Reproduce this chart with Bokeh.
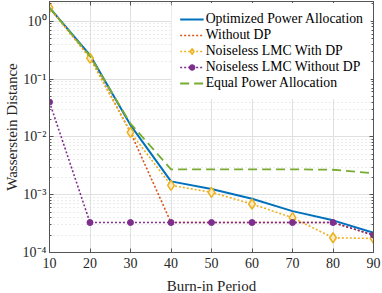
from bokeh.plotting import figure
from bokeh.models import FixedTicker, LogAxis, LinearAxis, CustomJSTickFormatter, Range1d, Legend, LegendItem
from bokeh.embed import file_html
from bokeh.resources import INLINE

burn_in = [10, 20, 30, 40, 50, 60, 70, 80, 90]
optimized = [1.72, 0.26, 0.016, 1.7e-3, 1.25e-3, 8.5e-4, 5.2e-4, 3.6e-4, 2.2e-4]
without_dp = [1.72, 0.24, 0.012, 3.3e-4, 3.3e-4, 3.3e-4, 3.3e-4, 3.3e-4, 2.0e-4]
lmc_with_dp = [1.72, 0.23, 0.012, 1.45e-3, 1.1e-3, 6.9e-4, 4.0e-4, 1.8e-4, 1.75e-4]
lmc_without_dp = [0.04, 3.3e-4, 3.3e-4, 3.3e-4, 3.3e-4, 3.3e-4, 3.3e-4, 3.3e-4, 2.0e-4]
equal_power = [1.72, 0.25, 0.017, 2.75e-3, 2.75e-3, 2.75e-3, 2.75e-3, 2.7e-3, 2.35e-3]

x_ticks = [10, 20, 30, 40, 50, 60, 70, 80, 90]
y_major = [1e-4, 1e-3, 1e-2, 1e-1, 1.0]
y_minor = [k * 10.0 ** e for e in range(-4, 1) for k in range(2, 10)]

FONT = "'Liberation Serif', serif"
BLUE = "#0072BD"
RED = "#D95319"
YELLOW = "#EDB120"
PURPLE = "#7E2F8E"
GREEN = "#77AC30"

p = figure(frame_width=324, frame_height=251, y_axis_type="log", output_backend="svg",
           toolbar_location=None, x_range=Range1d(10, 90), y_range=Range1d(1e-4, 2.2),
           min_border_left=49, min_border_right=9, min_border_top=1, min_border_bottom=41)
p.background_fill_color = "white"
p.outline_line_color = "#555555"

sup = CustomJSTickFormatter(code="""
const m = {'-':'\u207b','0':'\u2070','1':'\u00b9','2':'\u00b2','3':'\u00b3','4':'\u2074'};
const e = Math.round(Math.log10(tick));
return '10' + String(e).split('').map(c => m[c]).join('');
""")

yt = FixedTicker(ticks=y_major, minor_ticks=y_minor)
xt = FixedTicker(ticks=x_ticks, minor_ticks=[])

for ax in p.yaxis:
    ax.ticker = yt
    ax.formatter = sup
for ax in p.xaxis:
    ax.ticker = xt

def style_axis(ax):
    ax.axis_line_color = "#555555"
    ax.major_tick_line_color = "#555555"
    ax.minor_tick_line_color = "#555555"
    ax.major_tick_in = 4
    ax.major_tick_out = 0
    ax.minor_tick_in = 2
    ax.minor_tick_out = 0
    ax.major_label_text_font = FONT
    ax.major_label_text_font_size = "14px"
    ax.major_label_text_color = "#262626"
    ax.axis_label_text_font = FONT
    ax.axis_label_text_font_size = "15px"
    ax.axis_label_text_font_style = "normal"
    ax.axis_label_text_color = "#262626"

style_axis(p.xaxis[0])
style_axis(p.yaxis[0])
p.xaxis[0].axis_label = "Burn-in Period"
p.yaxis[0].axis_label = "Wasserstein Distance"
p.xaxis[0].major_label_standoff = 5
p.yaxis[0].major_label_standoff = 3
p.yaxis[0].axis_label_standoff = 0
p.xaxis[0].axis_label_standoff = 7

ra = LogAxis(ticker=yt, formatter=CustomJSTickFormatter(code="return '';"))
ta = LinearAxis(ticker=xt, formatter=CustomJSTickFormatter(code="return '';"))
for ax in (ra, ta):
    style_axis(ax)
    ax.major_label_text_font_size = "0px"
    ax.major_label_standoff = 0
p.add_layout(ra, "right")
p.add_layout(ta, "above")

p.xgrid.ticker = xt
p.ygrid.ticker = yt
p.xgrid.grid_line_color = "#e0e0e0"
p.ygrid.grid_line_color = "#e0e0e0"
p.ygrid.minor_grid_line_color = "#d9d9d9"
p.ygrid.minor_grid_line_dash = "1 3"

r1 = p.line(burn_in, optimized, line_color=BLUE, line_width=2)
r2 = p.line(burn_in, without_dp, line_color=RED, line_width=1.6, line_dash="2 2")
r3 = p.line(burn_in, lmc_with_dp, line_color=YELLOW, line_width=1.6, line_dash="2 2")
r3m = p.scatter(burn_in, lmc_with_dp, marker="diamond", size=10, line_color=YELLOW,
                line_width=1.5, fill_color="#fbe9c0")
r4 = p.line(burn_in, lmc_without_dp, line_color=PURPLE, line_width=1.6, line_dash="2 2")
r4m = p.scatter(burn_in, lmc_without_dp, marker="circle", size=6, line_color=PURPLE,
                fill_color=PURPLE)
r5 = p.line(burn_in, equal_power, line_color=GREEN, line_width=1.8, line_dash="9 5")

legend = Legend(items=[
    LegendItem(label="Optimized Power Allocation", renderers=[r1]),
    LegendItem(label="Without DP", renderers=[r2]),
    LegendItem(label="Noiseless LMC With DP", renderers=[r3, r3m]),
    LegendItem(label="Noiseless LMC Without DP", renderers=[r4, r4m]),
    LegendItem(label="Equal Power Allocation", renderers=[r5]),
], location="top_right")
legend.label_text_font = FONT
legend.label_text_font_size = "13.75px"
legend.label_text_color = "#000000"
legend.glyph_width = 24
legend.glyph_height = 14
legend.label_height = 14
legend.label_standoff = 2
legend.spacing = 0
legend.padding = 8
legend.margin = 2
legend.border_line_alpha = 0
legend.background_fill_color = "white"
legend.background_fill_alpha = 1
p.add_layout(legend)

open("out.html", "w").write(file_html(p, INLINE))
